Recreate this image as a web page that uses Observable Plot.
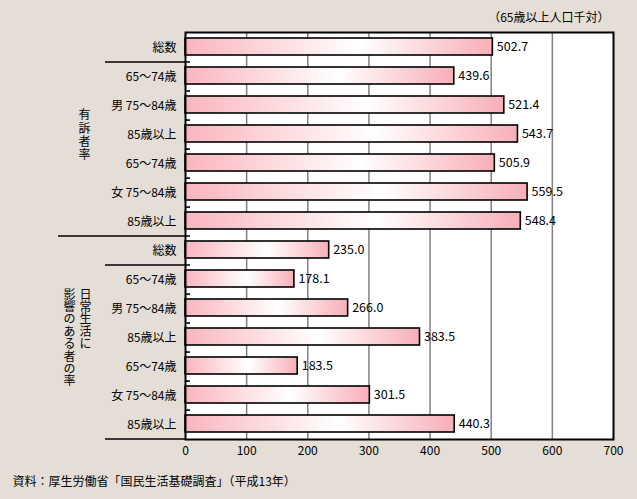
<!DOCTYPE html>
<html><head><meta charset="utf-8">
<script src="https://cdn.jsdelivr.net/npm/d3@7"></script>
<script src="https://cdn.jsdelivr.net/npm/@observablehq/plot@0.6"></script>
<style>
html,body{margin:0;padding:0;background:#e4ded7;}
#chart svg{display:block;}
</style></head><body><div id="chart"></div>
<script>
const ids = ["r0","r1","r2","r3","r4","r5","r6","r7","r8","r9","r10","r11","r12","r13"];
const labels = ["総数","65～74歳","男 75～84歳","85歳以上","65～74歳","女 75～84歳","85歳以上",
                "総数","65～74歳","男 75～84歳","85歳以上","65～74歳","女 75～84歳","85歳以上"];
const values = [502.7,439.6,521.4,543.7,505.9,559.5,548.4,235.0,178.1,266.0,383.5,183.5,301.5,440.3];
const groupOf = [0,0,0,0,0,0,0,1,1,1,1,1,1,1];
const xTicks = [0,100,200,300,400,500,600,700];
const group1Label = "有訴者率";
const group2Col1 = "日常生活に";
const group2Col2 = "影響のある者の率";
const unitText = "（65歳以上人口千対）";
const sourceText = "資料：厚生労働省「国民生活基礎調査」（平成13年）";

const rows = ids.map((id, i) => ({id, label: labels[i], value: values[i], group: groupOf[i]}));
const vertical = s => [...s].join("\n");

function separators(index, scales, vals, dims) {
  const y = scales.y;
  const step = (dims.height - dims.marginTop - dims.marginBottom) / ids.length;
  const x0 = dims.marginLeft;
  const g = d3.create("svg:g").attr("stroke", "black").attr("stroke-width", 1.6).attr("fill", "none");
  ids.forEach((id, i) => {
    const yb = y(id) + step;
    let xs = x0, xe = x0 + 5;
    if (i === ids.length - 1) { xs = x0 - 80; xe = x0; }
    else if (groupOf[i + 1] !== groupOf[i]) { xs = x0 - 127; }
    else if (labels[i] === "総数") { xs = x0 - 80; }
    g.append("line").attr("x1", xs).attr("x2", xe).attr("y1", yb).attr("y2", yb);
  });
  return g.node();
}

const chart = Plot.plot({
  width: 637,
  height: 499,
  marginLeft: 185,
  marginRight: 24,
  marginTop: 32,
  marginBottom: 60,
  style: {fontFamily: "'Noto Sans CJK JP', sans-serif", fontSize: "12px", background: "#e4ded7", color: "black"},
  x: {domain: [0, 700], ticks: xTicks, tickSize: 0, tickPadding: 7, label: null, tickFormat: d => String(d)},
  y: {domain: ids, padding: 0, tickSize: 0, tickPadding: 9, label: null, tickFormat: d => labels[ids.indexOf(d)]},
  marks: [
    Plot.frame({fill: "white", stroke: "none"}),
    Plot.ruleX(xTicks.filter(v => v > 0 && v < 700), {stroke: "#808080", strokeWidth: 1.5}),
    Plot.barX(rows, {x: "value", y: "id", fill: "url(#barGrad)", stroke: "black", strokeWidth: 1.6, insetTop: 5, insetBottom: 7}),
    Plot.text(rows, {x: "value", y: "id", text: d => d.value.toFixed(1), textAnchor: "start", dx: 4, dy: -1, fill: "black", fontSize: 12.5}),
    Plot.frame({stroke: "black", strokeWidth: 2}),
    separators,
    Plot.text([group1Label], {frameAnchor: "left", y: () => ids[3], text: d => vertical(d), dx: -101, textAnchor: "middle", lineAnchor: "middle", lineHeight: 1.12, fill: "black"}),
    Plot.text([group2Col1], {frameAnchor: "left", y: () => ids[10], text: d => vertical(d), dx: -100, dy: -48, textAnchor: "middle", lineAnchor: "top", lineHeight: 1.03, fill: "black"}),
    Plot.text([group2Col2], {frameAnchor: "left", y: () => ids[10], text: d => vertical(d), dx: -116, dy: -48, textAnchor: "middle", lineAnchor: "top", lineHeight: 1.03, fill: "black"}),
    Plot.text([unitText], {frameAnchor: "top-right", text: d => d, dx: -4, dy: -14, textAnchor: "end", lineAnchor: "middle", fill: "black"}),
    Plot.text([sourceText], {frameAnchor: "bottom-left", text: d => d, dx: -173, dy: 43, textAnchor: "start", lineAnchor: "middle", fill: "black"})
  ]
});

const defs = d3.select(chart).insert("defs", ":first-child");
const grad = defs.append("linearGradient").attr("id", "barGrad").attr("x1", "0").attr("x2", "1").attr("y1", "0").attr("y2", "0");
grad.append("stop").attr("offset", "0%").attr("stop-color", "#fab5be");
grad.append("stop").attr("offset", "57%").attr("stop-color", "#ffffff");
grad.append("stop").attr("offset", "100%").attr("stop-color", "#f8afb8");

document.getElementById("chart").appendChild(chart);
</script></body></html>
